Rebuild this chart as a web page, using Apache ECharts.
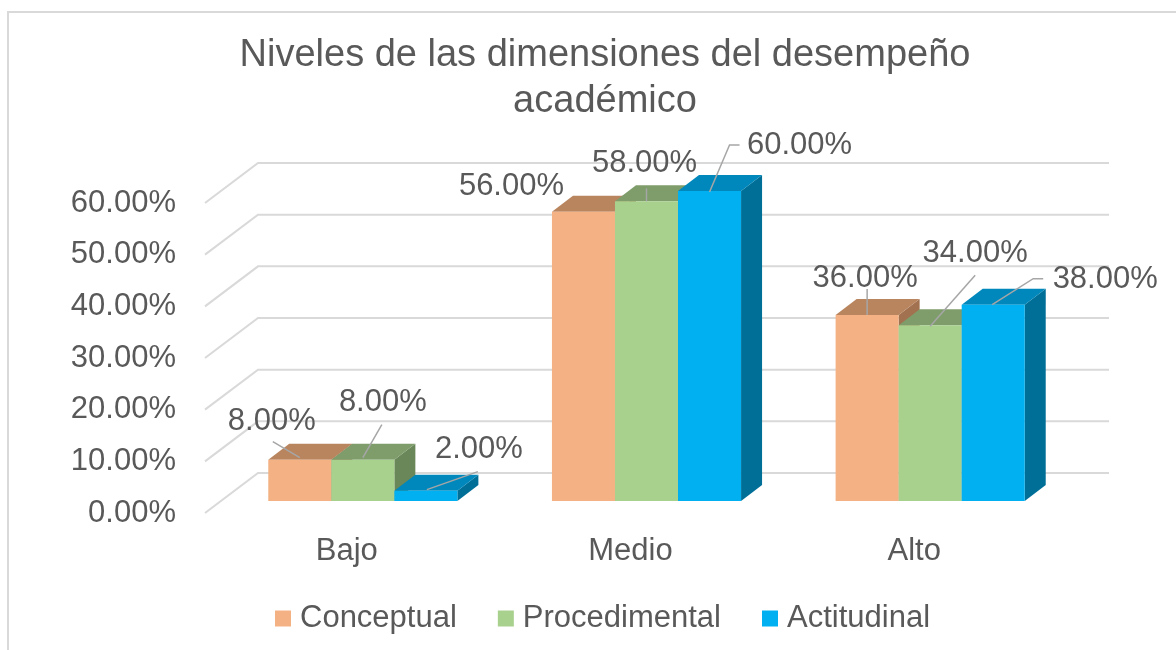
<!DOCTYPE html>
<html>
<head>
<meta charset="utf-8">
<script src="https://cdn.jsdelivr.net/npm/echarts@6/dist/echarts.min.js"></script>
<style>
    html, body { margin: 0; padding: 0; background: #fff; }
    #chart { width: 1176px; height: 650px; }
</style>
</head>
<body>
<div id="chart"></div>
<script>
// Data
const categories = ['Bajo', 'Medio', 'Alto'];
const seriesNames = ['Conceptual', 'Procedimental', 'Actitudinal'];
const conceptual = [8, 56, 36];
const procedimental = [8, 58, 34];
const actitudinal = [2, 60, 38];
const yTicks = [0, 10, 20, 30, 40, 50, 60];

const FONT = '"Liberation Sans", Arial, sans-serif';
const TEXT = '#595959';
const GRID_LINE = '#D9D9D9';
const LEADER = '#A6A6A6';

// front / top / side shades for each series
const SHADES = [
    { front: '#F4B183', top: '#B9855F', side: '#A2714F' },
    { front: '#A9D18E', top: '#7E9D6B', side: '#6A8759' },
    { front: '#00B0F0', top: '#0088BC', side: '#006F98' }
];

// oblique offsets (px): bar depth, wall back plane, front plane
const BAR_DEPTH = [21, -16];
const WALL_BACK = [37, -28];
const WALL_FRONT = [-16, 12];

// label placement relative to the top-front centre of each bar
const LABEL_POS = [
    [
        { text: [-28, -38], line: [[-27, -18], [0, -2]] },
        { text: [-72, -25], line: null },
        { text: [-2, -37], line: [[0, -26], [0, 0]] }
    ],
    [
        { text: [20, -57], line: [[19, -35], [0, -2]] },
        { text: [-2, -38], line: [[0, -13], [0, 0]] },
        { text: [45, -72], line: [[45, -50], [0, 1]] }
    ],
    [
        { text: [53, -41], line: [[52, -19], [1, -1]] },
        { text: [90, -46], line: [[0, 1], [20, -46], [30, -46]] },
        { text: [112, -25], line: [[-1, 0], [40, -26], [50, -26]] }
    ]
];

const seriesValues = [conceptual, procedimental, actitudinal];

function wallRenderer(params, api) {
    const cs = params.coordSys;
    const y = api.coord([0, api.value(1)])[1];
    const left = cs.x;
    const right = cs.x + cs.width;
    return {
        type: 'polyline',
        shape: {
            points: [
                [left + WALL_FRONT[0], y + WALL_FRONT[1]],
                [left + WALL_BACK[0], y + WALL_BACK[1]],
                [right + WALL_BACK[0], y + WALL_BACK[1]]
            ]
        },
        style: { stroke: GRID_LINE, lineWidth: 2, fill: null },
        silent: true
    };
}

function makeBarRenderer(k) {
    const c = SHADES[k];
    return function (params, api) {
        const idx = api.value(0);
        const val = api.value(1);
        const top = api.coord([idx, val]);
        const base = api.coord([idx, 0]);
        const band = api.size([1, 0])[0];
        const w = band / 4.5;
        const x0 = top[0] - 1.5 * w + k * w;
        const x1 = x0 + w;
        const yT = top[1];
        const yB = base[1];
        const dx = BAR_DEPTH[0], dy = BAR_DEPTH[1];
        const children = [
            {
                type: 'polygon',
                shape: { points: [[x1, yB], [x1 + dx, yB + dy], [x1 + dx, yT + dy], [x1, yT]] },
                style: { fill: c.side }
            },
            {
                type: 'polygon',
                shape: { points: [[x0, yT], [x0 + dx, yT + dy], [x1 + dx, yT + dy], [x1, yT]] },
                style: { fill: c.top }
            },
            {
                type: 'rect',
                shape: { x: x0, y: yT, width: w, height: yB - yT },
                style: { fill: c.front }
            }
        ];
        const cx = (x0 + x1) / 2;
        const pos = LABEL_POS[k][idx];
        if (pos.line) {
            children.push({
                type: 'polyline',
                shape: { points: pos.line.map(p => [cx + p[0], yT + p[1]]) },
                style: { stroke: LEADER, lineWidth: 1.5, fill: null }
            });
        }
        children.push({
            type: 'text',
            style: {
                text: val.toFixed(2) + '%',
                x: cx + pos.text[0],
                y: yT + pos.text[1],
                align: 'center',
                verticalAlign: 'middle',
                fontSize: 31,
                fontFamily: FONT,
                fill: TEXT
            }
        });
        return { type: 'group', children: children };
    };
}

const chart = echarts.init(document.getElementById('chart'));

const series = [{
    name: 'walls',
    type: 'custom',
    xAxisIndex: 0,
    yAxisIndex: 0,
    renderItem: wallRenderer,
    data: yTicks.map(v => [0, v]),
    silent: true,
    z: 1
}];

seriesNames.forEach((name, k) => {
    series.push({
        name: name,
        type: 'custom',
        xAxisIndex: 0,
        yAxisIndex: 0,
        renderItem: makeBarRenderer(k),
        itemStyle: { color: SHADES[k].front },
        data: seriesValues[k].map((v, i) => [i, v]),
        z: 2 + k
    });
});

chart.setOption({
    animation: false,
    backgroundColor: '#fff',
    textStyle: { fontFamily: FONT },
    title: {
        text: 'Niveles de las dimensiones del desempeño\nacadémico',
        left: 600,
        top: 28,
        textAlign: 'center',
        textStyle: {
            fontSize: 38,
            fontWeight: 'normal',
            color: TEXT,
            fontFamily: FONT,
            lineHeight: 46
        }
    },
    graphic: [{
        type: 'rect',
        shape: { x: 8, y: 12, width: 1300, height: 800 },
        style: { fill: null, stroke: GRID_LINE, lineWidth: 2 },
        silent: true,
        z: -10
    }],
    legend: {
        data: seriesNames,
        left: 270,
        top: 598,
        icon: 'rect',
        itemWidth: 16,
        itemHeight: 16,
        itemGap: 41,
        textStyle: {
            fontSize: 31,
            color: TEXT,
            fontFamily: FONT,
            padding: [0, 0, 0, 4]
        }
    },
    grid: [
        { left: 221, top: 191, width: 851, height: 310 },
        { left: 205, top: 203, width: 851, height: 310 }
    ],
    xAxis: [
        {
            type: 'category',
            gridIndex: 0,
            data: categories,
            show: false
        },
        {
            type: 'category',
            gridIndex: 1,
            data: categories,
            axisLine: { show: false },
            axisTick: { show: false },
            axisLabel: { fontSize: 31, color: TEXT, margin: 23, fontFamily: FONT }
        }
    ],
    yAxis: [
        {
            type: 'value',
            gridIndex: 0,
            min: 0,
            max: 60,
            interval: 10,
            show: false
        },
        {
            type: 'value',
            gridIndex: 1,
            min: 0,
            max: 60,
            interval: 10,
            axisLine: { show: false },
            axisTick: { show: false },
            splitLine: { show: false },
            axisLabel: {
                fontSize: 31,
                color: TEXT,
                margin: 29,
                fontFamily: FONT,
                formatter: v => v.toFixed(2) + '%'
            }
        }
    ],
    series: series
});
</script>
</body>
</html>
